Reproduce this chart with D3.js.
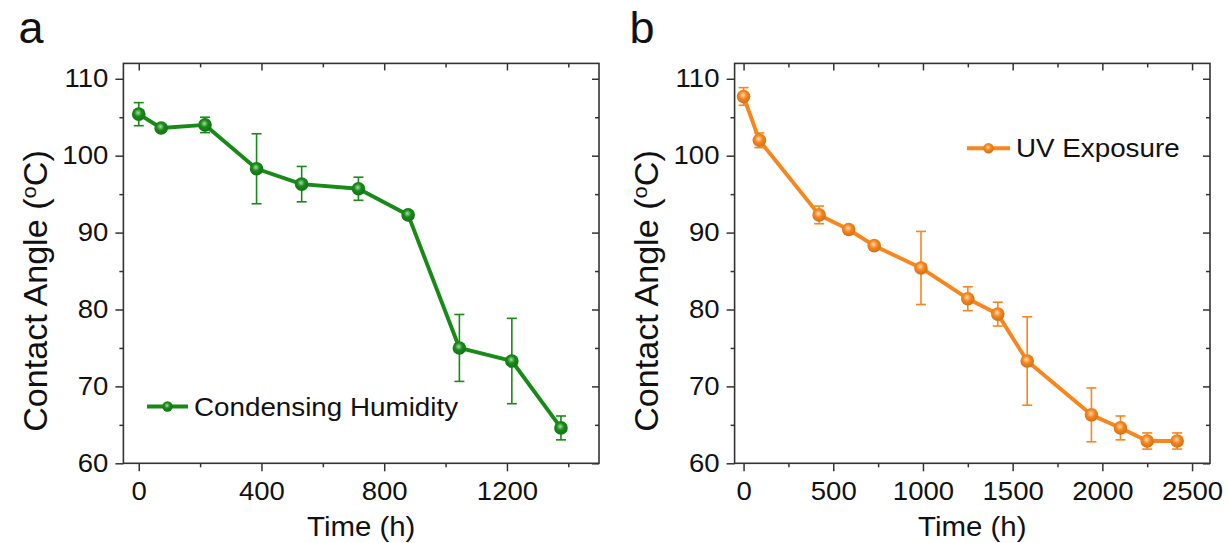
<!DOCTYPE html>
<html lang="en">
<head>
<meta charset="utf-8">
<title>Contact angle vs time</title>
<style>
body { margin: 0; background: #fff; }
svg { font-family: "Liberation Sans", Arial, sans-serif; }
.axis path { display: none; }
.axis line { stroke: #333; stroke-width: 1.5; }
.axis text { fill: #111; font-size: 25.5px; }
.frame { fill: none; stroke: #333; stroke-width: 1.6; }
</style>
</head>
<body>
<svg width="1228" height="543"></svg>
<script src="https://cdn.jsdelivr.net/npm/d3@7"></script>
<script>
// panel a: condensing humidity
const timeA  = [0, 73, 216, 384, 531, 716, 878, 1045, 1216, 1376];
const angleA = [105.4, 103.6, 104.0, 98.3, 96.3, 95.7, 92.3, 75.0, 73.3, 64.6];
const errA   = [1.5, 0.3, 1.0, 4.55, 2.3, 1.5, 0.5, 4.35, 5.55, 1.55];

// panel b: UV exposure
const timeB  = [0, 88, 421, 586, 728, 989, 1250, 1417, 1581, 1939, 2101, 2250, 2417];
const angleB = [107.7, 102.0, 92.3, 90.4, 88.3, 85.4, 81.4, 79.4, 73.3, 66.3, 64.6, 62.9, 62.9];
const errB   = [1.15, 0.95, 1.15, 0.5, 0.4, 4.75, 1.55, 1.55, 5.75, 3.5, 1.55, 1.05, 1.05];

const yTicks = [60, 70, 80, 90, 100, 110];
const yMinor = [65, 75, 85, 95, 105];
const xTicksA = [0, 400, 800, 1200], xMinorA = [200, 600, 1000, 1400];
const xTicksB = [0, 500, 1000, 1500, 2000, 2500], xMinorB = [250, 750, 1250, 1750, 2250];

const svg = d3.select("svg");
const plotTop = 63.4, plotBottom = 463.3;
const stretch = 1.08; // glyphs in the figure are a little wide

const panels = [
  { letter: "a", left: 123.4, right: 599, xdom: [-50, 1500], t: timeA, v: angleA, e: errA,
    xt: xTicksA, xm: xMinorA, color: "#178a17", light: "#a6dca6", name: "Condensing Humidity",
    leg: { x1: 147, x2: 188, y: 406.5 } },
  { letter: "b", left: 734.6, right: 1210, xdom: [-50, 2600], t: timeB, v: angleB, e: errB,
    xt: xTicksB, xm: xMinorB, color: "#f7861c", light: "#ffdcb8", name: "UV Exposure",
    leg: { x1: 967, x2: 1010, y: 148.3 } }
];

const defs = svg.append("defs");

panels.forEach(function(p, k) {
  let x = d3.scaleLinear().domain(p.xdom).range([p.left, p.right]);
  let y = d3.scaleLinear().domain([60, 112]).range([plotBottom, plotTop]);

  let grad = defs.append("radialGradient")
      .attr("id", "ball" + k)
      .attr("cx", "45%").attr("cy", "40%").attr("r", "60%");
  grad.append("stop").attr("offset", "0%").attr("stop-color", p.light);
  grad.append("stop").attr("offset", "45%").attr("stop-color", p.color);
  grad.append("stop").attr("offset", "100%").attr("stop-color", d3.color(p.color).darker(0.5));

  let g = svg.append("g");

  // bottom axis (outward) + minor
  g.append("g").attr("class", "axis")
      .attr("transform", "translate(0," + plotBottom + ")")
      .call(d3.axisBottom(x).tickValues(p.xt).tickFormat(d3.format("d"))
        .tickSize(8).tickPadding(11).tickSizeOuter(0))
    .selectAll("text").attr("transform", "scale(" + stretch + ",1)");
  g.append("g").attr("class", "axis")
      .attr("transform", "translate(0," + plotBottom + ")")
      .call(d3.axisBottom(x).tickValues(p.xm).tickSize(4).tickFormat("").tickSizeOuter(0));
  // top axis (inward)
  g.append("g").attr("class", "axis")
      .attr("transform", "translate(0," + plotTop + ")")
      .call(d3.axisTop(x).tickValues(p.xt).tickSize(-7).tickFormat("").tickSizeOuter(0));
  g.append("g").attr("class", "axis")
      .attr("transform", "translate(0," + plotTop + ")")
      .call(d3.axisTop(x).tickValues(p.xm).tickSize(-4).tickFormat("").tickSizeOuter(0));
  // left axis (outward) + minor
  g.append("g").attr("class", "axis")
      .attr("transform", "translate(" + p.left + ",0)")
      .call(d3.axisLeft(y).tickValues(yTicks).tickSize(8).tickPadding(6).tickSizeOuter(0))
    .selectAll("text").attr("transform", "scale(" + stretch + ",1)");
  g.append("g").attr("class", "axis")
      .attr("transform", "translate(" + p.left + ",0)")
      .call(d3.axisLeft(y).tickValues(yMinor).tickSize(4).tickFormat("").tickSizeOuter(0));
  // right axis (inward)
  g.append("g").attr("class", "axis")
      .attr("transform", "translate(" + p.right + ",0)")
      .call(d3.axisRight(y).tickValues(yTicks).tickSize(-7).tickFormat("").tickSizeOuter(0));
  g.append("g").attr("class", "axis")
      .attr("transform", "translate(" + p.right + ",0)")
      .call(d3.axisRight(y).tickValues(yMinor).tickSize(-4).tickFormat("").tickSizeOuter(0));

  g.append("rect").attr("class", "frame")
      .attr("x", p.left).attr("y", plotTop)
      .attr("width", p.right - p.left).attr("height", plotBottom - plotTop);

  let pts = p.t.map(function(t, i) { return { t: t, v: p.v[i], e: p.e[i] }; });

  // error bars
  let eb = g.append("g").attr("stroke", p.color).attr("stroke-width", 1.6);
  pts.forEach(function(d) {
    let cx = x(d.t);
    eb.append("line").attr("x1", cx).attr("x2", cx).attr("y1", y(d.v + d.e)).attr("y2", y(d.v - d.e));
    eb.append("line").attr("x1", cx - 5).attr("x2", cx + 5).attr("y1", y(d.v + d.e)).attr("y2", y(d.v + d.e));
    eb.append("line").attr("x1", cx - 5).attr("x2", cx + 5).attr("y1", y(d.v - d.e)).attr("y2", y(d.v - d.e));
  });

  let line = d3.line().x(function(d) { return x(d.t); }).y(function(d) { return y(d.v); });
  g.append("path").datum(pts)
      .attr("d", line)
      .attr("fill", "none")
      .attr("stroke", p.color)
      .attr("stroke-width", 3.9)
      .attr("stroke-linejoin", "round");

  g.selectAll(".pt").data(pts).enter().append("circle")
      .attr("cx", function(d) { return x(d.t); })
      .attr("cy", function(d) { return y(d.v); })
      .attr("r", 6.8)
      .attr("fill", "url(#ball" + k + ")");

  // legend
  g.append("line")
      .attr("x1", p.leg.x1).attr("x2", p.leg.x2)
      .attr("y1", p.leg.y).attr("y2", p.leg.y)
      .attr("stroke", p.color).attr("stroke-width", 3.9);
  g.append("circle")
      .attr("cx", (p.leg.x1 + p.leg.x2) / 2).attr("cy", p.leg.y)
      .attr("r", 5.2).attr("fill", "url(#ball" + k + ")");
  g.append("text")
      .attr("transform", "translate(" + (p.leg.x2 + 6) + "," + (p.leg.y + 9) + ") scale(1.09,1)")
      .attr("font-size", 25.5).attr("fill", "#111")
      .text(p.name);

  // titles
  g.append("text")
      .attr("transform", "translate(" + ((p.left + p.right) / 2) + ",536) scale(1.09,1)")
      .attr("text-anchor", "middle").attr("font-size", 27).attr("fill", "#111")
      .text("Time (h)");

  let yt = g.append("text")
      .attr("transform", "translate(" + (p.left - 76.5) + "," + 291 + ") rotate(-90) scale(1.05,1)")
      .attr("text-anchor", "middle").attr("font-size", 32.5).attr("fill", "#111");
  yt.append("tspan").text("Contact Angle (");
  yt.append("tspan").attr("dy", -11).attr("font-size", 21).text("o");
  yt.append("tspan").attr("dy", 11).text("C)");

  g.append("text")
      .attr("x", p.left - 105).attr("y", 43)
      .attr("font-size", 45).attr("fill", "#111")
      .text(p.letter);
});
</script>
</body>
</html>
